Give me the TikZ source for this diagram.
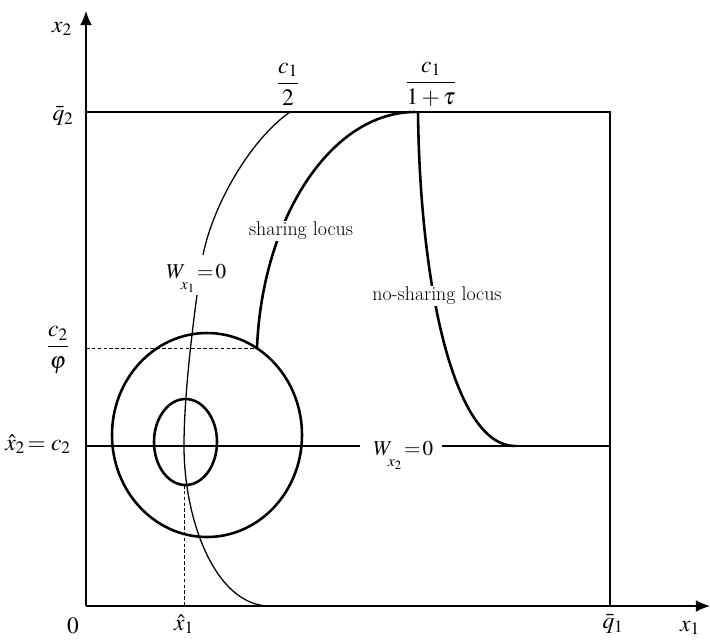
\documentclass[tikz,border=0pt]{standalone}
\usepackage{amsmath}
\usepackage{mathptmx}
\usetikzlibrary{arrows.meta}
\newcommand\lowsubscr[1]{\lower1.3ex\hbox{$\scriptstyle #1$}}
\begin{document}
\begin{tikzpicture}[x=0.03cm,y=-0.03cm,
  every node/.style={font=\fontsize{17}{20}\selectfont, inner sep=1pt},
  mathlab/.style={font=\fontsize{20}{24}\selectfont},
  wlab/.style={font=\fontsize{18}{22}\selectfont, anchor=base west},
  axisline/.style={line width=1.2pt},
  boxline/.style={line width=1.0pt},
  thickcurve/.style={line width=2.2pt},
  thincurve/.style={line width=1.1pt},
  guide/.style={line width=0.6pt, dash pattern=on 3pt off 2pt},
  tip/.style={-{Latex[length=12pt,width=10pt]}}]
\useasboundingbox (0,0) rectangle (710,639);
% coordinates
\coordinate (O) at (86,606);
\coordinate (Ytip) at (86,11);
\coordinate (Xtip) at (710,606);
\coordinate (TL) at (86,112);
\coordinate (TR) at (610,112);
\coordinate (BR) at (610,606);
\coordinate (WL) at (86,446);
\coordinate (WA) at (360,446);
\coordinate (WB) at (442,446);
\coordinate (WR) at (610,446);
\coordinate (Phi0) at (86,348);
\coordinate (PhiE) at (257,348);
\coordinate (Hat0) at (184,485);
\coordinate (HatE) at (184,606);
% axes and box
\draw[axisline,tip] (O) -- (Ytip);
\draw[axisline,tip] (O) -- (Xtip);
\draw[boxline] (TL) -- (TR) -- (BR);
\draw[boxline] (WL) -- (WA);
\draw[boxline] (WB) -- (WR);
% guides
\draw[guide] (Phi0) -- (PhiE);
\draw[guide] (Hat0) -- (HatE);
% W_x1 = 0 curve
\draw[thincurve] (290,112) .. controls (250,140) and (213,205) .. (203,255);
\draw[thincurve] (197,295) .. controls (191,340) and (184,400) .. (184,446)
  .. controls (184,520) and (215,604) .. (268,606);
% sharing locus
\draw[thickcurve] (415,112) .. controls (330,112) and (262,220) .. (257,348);
% no-sharing locus
\draw[thickcurve] (418,112) .. controls (420,290) and (455,446) .. (515,446);
% contours
\draw[thickcurve] (207,435) ellipse [x radius=95, y radius=102];
\draw[thickcurve] (185.5,442) ellipse [x radius=31.5, y radius=43];
% labels
\node[mathlab] (x2lab) at (62,29) {$x_2$};
\node[mathlab] (q2lab) at (63,116) {$\bar q_2$};
\node[mathlab] (c1half) at (288,84) {$\dfrac{c_1}{2}$};
\node[mathlab] (c1tau) at (431,84) {$\dfrac{c_1}{1+\tau}$};
\node[mathlab] (c2phi) at (58,350) {$\dfrac{c_2}{\varphi}$};
\node[mathlab] (x2hat) at (38,444) {$\hat x_2\!= c_2$};
\node[mathlab] (zero) at (73,626) {$0$};
\node[mathlab] (x1hat) at (184,624) {$\hat x_1$};
\node[mathlab] (q1lab) at (613,624) {$\bar q_1$};
\node[mathlab] (x1lab) at (690,628) {$x_1$};
\node[fill=white] (share) at (301,231) {sharing locus};
\node[fill=white] (noshare) at (437,296) {no-sharing locus};
\node[wlab] (wx1) at (165,278) {$W\kern-4pt\lowsubscr{x_1}\kern2pt{=}\kern2pt0$};
\node[wlab] (wx2) at (372,455) {$W\kern-4pt\lowsubscr{x_2}\kern2pt{=}\kern2pt0$};
\end{tikzpicture}
\end{document}
